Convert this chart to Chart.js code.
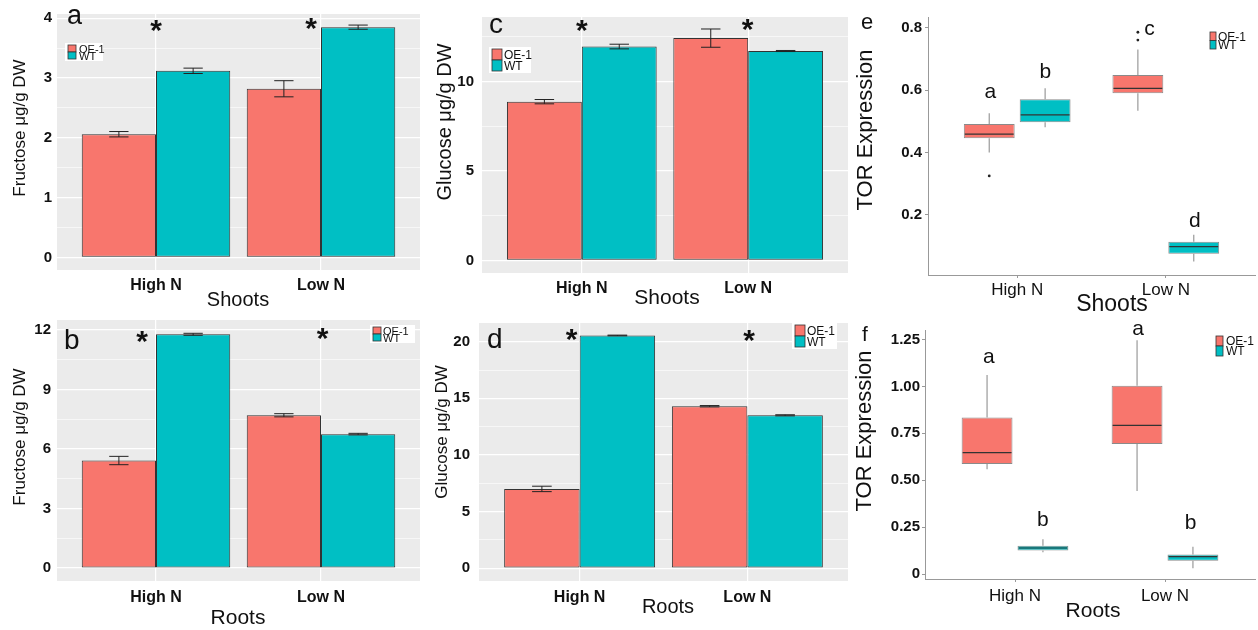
<!DOCTYPE html>
<html>
<head>
<meta charset="utf-8">
<script src="https://cdn.jsdelivr.net/npm/chart.js@4.4.1/dist/chart.umd.min.js"></script>
<style>
  body { margin: 0; background: #fff; width: 1258px; height: 630px; position: relative; overflow: hidden; }
  canvas { position: absolute; }
</style>
</head>
<body>
<canvas id="a" width="425" height="312" style="left:0;top:0"></canvas>
<canvas id="b" width="425" height="325" style="left:0;top:305px"></canvas>
<canvas id="c" width="423" height="312" style="left:425px;top:0"></canvas>
<canvas id="d" width="423" height="325" style="left:425px;top:305px"></canvas>
<canvas id="e" width="418" height="317" style="left:840px;top:0"></canvas>
<canvas id="f" width="418" height="315" style="left:840px;top:315px"></canvas>
<script>
const groups = ["High N", "Low N"];
const genotypes = ["OE-1", "WT"];
const fill = ["#F8766D", "#00BFC4"];

// a: fructose, shoots (mean, se)
const fruShootOE = [2.06, 2.82];
const fruShootOEse = [0.045, 0.135];
const fruShootWT = [3.12, 3.85];
const fruShootWTse = [0.045, 0.035];
// b: fructose, roots
const fruRootOE = [5.42, 7.70];
const fruRootOEse = [0.21, 0.08];
const fruRootWT = [11.78, 6.75];
const fruRootWTse = [0.05, 0.04];
// c: glucose, shoots
const gluShootOE = [8.87, 12.42];
const gluShootOEse = [0.12, 0.51];
const gluShootWT = [11.95, 11.7];
const gluShootWTse = [0.13, 0.03];
// d: glucose, roots
const gluRootOE = [7.0, 14.3];
const gluRootOEse = [0.24, 0.06];
const gluRootWT = [20.55, 13.5];
const gluRootWTse = [0.03, 0.05];

// e, f: TOR expression boxes [lower whisker, Q1, median, Q3, upper whisker]
const torShootOE = [[0.40, 0.446, 0.459, 0.492, 0.526], [0.534, 0.590, 0.606, 0.649, 0.731]];
const torShootWT = [[0.481, 0.497, 0.521, 0.571, 0.606], [0.05, 0.075, 0.098, 0.114, 0.136]];
const torShootOEout = [[0.325], [0.761, 0.786]];
const torShootWTout = [[], []];
const torRootOE = [[0.559, 0.587, 0.647, 0.835, 1.06], [0.443, 0.693, 0.792, 1.003, 1.246]];
const torRootWT = [[0.117, 0.126, 0.14, 0.152, 0.186], [0.032, 0.072, 0.094, 0.106, 0.147]];
const torRootOEout = [[], []];
const torRootWTout = [[], []];

// significance marks: [x, y] in axis units
const starsA = [[1.0, 3.80], [1.94, 3.84]];
const starsB = [[0.915, 11.45], [2.01, 11.6]];
const starsC = [[1.0, 12.9], [1.997, 12.93]];
const starsD = [[0.952, 20.26], [2.01, 20.13]];
const lettersE = [["a", 0.82, 0.575], ["b", 1.19, 0.639], ["c", 1.89, 0.777], ["d", 2.195, 0.161]];
const lettersF = [["a", 0.825, 1.124], ["b", 1.185, 0.257], ["a", 1.82, 1.273], ["b", 2.17, 0.242]];

// tick values
const majorA = [0, 1, 2, 3, 4], minorA = [0.5, 1.5, 2.5, 3.5];
const majorB = [0, 3, 6, 9, 12], minorB = [1.5, 4.5, 7.5, 10.5];
const majorC = [0, 5, 10], minorC = [2.5, 7.5, 12.5];
const majorD = [0, 5, 10, 15, 20], minorD = [2.5, 7.5, 12.5, 17.5];
const ticksE = [0.2, 0.4, 0.6, 0.8];
const ticksF = [0, 0.25, 0.5, 0.75, 1.0, 1.25];

const FONT = '"Liberation Sans", Arial, Helvetica, sans-serif';

function text(ctx, s, x, y, font, align, base, rot) {
    ctx.save();
    ctx.font = font;
    ctx.fillStyle = "#111";
    ctx.textAlign = align || "center";
    ctx.textBaseline = base || "middle";
    ctx.translate(x, y);
    if (rot) ctx.rotate(rot);
    ctx.fillText(s, 0, 0);
    ctx.restore();
}

const decor = {
    id: "decor",
    beforeDraw(chart, args, o) {
        if (!o.gray) return;
        const a = chart.chartArea, ctx = chart.ctx;
        ctx.save();
        ctx.fillStyle = "#EBEBEB";
        ctx.fillRect(a.left, a.top, a.right - a.left, a.bottom - a.top);
        ctx.restore();
    },
    afterDatasetsDraw(chart, args, o) {
        const ctx = chart.ctx, ys = chart.scales.y;
        ctx.save();
        if (o.errors) {
            ctx.strokeStyle = "#222";
            ctx.lineWidth = 1;
            o.errors.forEach((err, d) => {
                const ds = chart.data.datasets[d];
                chart.getDatasetMeta(d).data.forEach((bar, i) => {
                    const v = ds.data[i].y;
                    const t = ys.getPixelForValue(v + err[i]);
                    const b = ys.getPixelForValue(v - err[i]);
                    const h = bar.width * 0.13;
                    ctx.beginPath();
                    ctx.moveTo(bar.x, t); ctx.lineTo(bar.x, b);
                    ctx.moveTo(bar.x - h, t); ctx.lineTo(bar.x + h, t);
                    ctx.moveTo(bar.x - h, b); ctx.lineTo(bar.x + h, b);
                    ctx.stroke();
                });
            });
        }
        if (o.boxes) {
            o.boxes.forEach((stats, d) => {
                chart.getDatasetMeta(d).data.forEach((bar, i) => {
                    const s = stats[i].map(v => ys.getPixelForValue(v));
                    ctx.strokeStyle = "#9a9a9a";
                    ctx.lineWidth = 1.2;
                    ctx.beginPath();
                    ctx.moveTo(bar.x, s[0]); ctx.lineTo(bar.x, s[1]);
                    ctx.moveTo(bar.x, s[3]); ctx.lineTo(bar.x, s[4]);
                    ctx.stroke();
                    ctx.strokeStyle = "#333";
                    ctx.beginPath();
                    ctx.moveTo(bar.x - bar.width / 2 + 1, s[2]);
                    ctx.lineTo(bar.x + bar.width / 2 - 1, s[2]);
                    ctx.stroke();
                    ctx.fillStyle = "#222";
                    o.outliers[d][i].forEach(v => {
                        ctx.beginPath();
                        ctx.arc(bar.x, ys.getPixelForValue(v), 1.4, 0, Math.PI * 2);
                        ctx.fill();
                    });
                });
            });
        }
        ctx.restore();
    },
    afterDraw(chart, args, o) {
        const ctx = chart.ctx, xs = chart.scales.x, ys = chart.scales.y;
        (o.stars || []).forEach(([x, y]) => {
            text(ctx, "*", xs.getPixelForValue(x), ys.getPixelForValue(y) + 10, "bold 30px " + FONT, "center", "alphabetic");
        });
        (o.letters || []).forEach(([s, x, y]) => {
            text(ctx, s, xs.getPixelForValue(x), ys.getPixelForValue(y), "21px " + FONT, "center", "alphabetic");
        });
        const L = o.legend;
        if (L) {
            ctx.save();
            if (L.bg) {
                ctx.fillStyle = "#fff";
                ctx.fillRect(L.x - 3, L.y - 2, L.w, L.rh * 2 + 4);
            }
            chart.data.datasets.forEach((ds, k) => {
                ctx.fillStyle = fill[k];
                ctx.fillRect(L.x, L.y + k * L.rh, L.bw, L.rh);
                ctx.strokeStyle = "#333";
                ctx.lineWidth = 0.8;
                ctx.strokeRect(L.x, L.y + k * L.rh, L.bw, L.rh);
                text(ctx, ds.label, L.tx, L.y + k * L.rh + L.rh / 2 + 1, L.size + "px " + FONT, "left", "middle");
            });
            ctx.restore();
        }
        const P = o.tag;
        text(ctx, P.s, P.x, P.y, P.size + "px " + FONT, "left", "alphabetic");
        const Y = o.ytitle, X = o.xtitle;
        text(ctx, Y.s, Y.x, Y.y, Y.size + "px " + FONT, "center", "middle", -Math.PI / 2);
        text(ctx, X.s, X.x, X.y, X.size + "px " + FONT, "center", "middle");
    }
};

function xScale(h, gray, pad, size, weight) {
    return {
        type: "linear", min: 0.4, max: 2.6, offset: false,
        afterBuildTicks: s => { s.ticks = [{ value: 1 }, { value: 2 }]; },
        afterFit: s => { s.height = h; },
        ticks: {
            autoSkip: false, padding: pad, color: "#111",
            font: { family: FONT, size: size, weight: weight },
            callback: v => groups[v - 1]
        },
        grid: gray
            ? { offset: false, color: "#fff", lineWidth: 1.2, drawTicks: false }
            : { offset: false, drawOnChartArea: false, drawTicks: true, tickLength: 3, color: "#999" },
        border: gray ? { display: false } : { display: true, color: "#999", width: 1 }
    };
}

function barChart(id, cfg) {
    const values = cfg.values, allTicks = cfg.major.concat(cfg.minor).sort((p, q) => p - q);
    return new Chart(document.getElementById(id), {
        type: "bar",
        data: {
            datasets: genotypes.map((g, k) => ({
                label: g,
                data: groups.map((_, i) => ({ x: i + 1, y: values[k][i] })),
                backgroundColor: fill[k],
                borderColor: "#333",
                borderWidth: 1,
                borderSkipped: false,
                barPercentage: 1,
                categoryPercentage: 0.9
            }))
        },
        options: {
            responsive: false,
            animation: false,
            events: [],
            layout: { padding: cfg.pad },
            plugins: {
                legend: { display: false },
                tooltip: { enabled: false },
                decor: {
                    gray: true, errors: cfg.errors, stars: cfg.stars, legend: cfg.legend,
                    tag: cfg.tag, ytitle: cfg.ytitle, xtitle: cfg.xtitle
                }
            },
            scales: {
                x: xScale(cfg.xh, true, cfg.xpad, 16, "bold"),
                y: {
                    min: cfg.range[0], max: cfg.range[1],
                    afterBuildTicks: s => { s.ticks = allTicks.map(v => ({ value: v })); },
                    afterFit: s => { s.width = cfg.yw; },
                    ticks: {
                        autoSkip: false, padding: cfg.ypad, color: "#111",
                        font: { family: FONT, size: 15, weight: "bold" },
                        callback: v => cfg.major.includes(v) ? String(v) : ""
                    },
                    grid: {
                        color: "#fff", drawTicks: false,
                        lineWidth: c => cfg.minor.includes(c.tick && c.tick.value) ? 0.6 : 1.2
                    },
                    border: { display: false }
                }
            }
        },
        plugins: [decor]
    });
}

function boxChart(id, cfg) {
    return new Chart(document.getElementById(id), {
        type: "bar",
        data: {
            datasets: genotypes.map((g, k) => ({
                label: g,
                data: groups.map((_, i) => ({ x: i + 1, y: [cfg.stats[k][i][1], cfg.stats[k][i][3]] })),
                backgroundColor: fill[k],
                borderColor: "#8a8a8a",
                borderWidth: 1,
                borderSkipped: false,
                barPercentage: 0.91,
                categoryPercentage: cfg.cat
            }))
        },
        options: {
            responsive: false,
            animation: false,
            events: [],
            layout: { padding: cfg.pad },
            plugins: {
                legend: { display: false },
                tooltip: { enabled: false },
                decor: {
                    boxes: cfg.stats, outliers: cfg.outliers, letters: cfg.letters, legend: cfg.legend,
                    tag: cfg.tag, ytitle: cfg.ytitle, xtitle: cfg.xtitle
                }
            },
            scales: {
                x: xScale(cfg.xh, false, cfg.xpad, 17, "normal"),
                y: {
                    min: cfg.range[0], max: cfg.range[1],
                    afterBuildTicks: s => { s.ticks = cfg.ticks.map(v => ({ value: v })); },
                    afterFit: s => { s.width = cfg.yw; },
                    ticks: {
                        autoSkip: false, padding: cfg.ypad, color: "#111",
                        font: { family: FONT, size: 15, weight: "bold" },
                        callback: cfg.fmt
                    },
                    grid: { drawOnChartArea: false, drawTicks: true, tickLength: 3, color: "#999" },
                    border: { display: true, color: "#999", width: 1 }
                }
            }
        },
        plugins: [decor]
    });
}

barChart("a", {
    values: [fruShootOE, fruShootWT], errors: [fruShootOEse, fruShootWTse], stars: starsA,
    major: majorA, minor: minorA, range: [-0.21, 4.07],
    pad: { top: 10, right: 5, left: 0, bottom: 0 }, yw: 57, xh: 42, xpad: 6, ypad: 5,
    legend: { x: 68, y: 45, bw: 8, rh: 7, tx: 79, size: 11, bg: true, w: 38 },
    tag: { s: "a", x: 67, y: 24, size: 27 },
    ytitle: { s: "Fructose μg/g DW", x: 20, y: 128, size: 17 },
    xtitle: { s: "Shoots", x: 238, y: 300, size: 20 }
});
barChart("b", {
    values: [fruRootOE, fruRootWT], errors: [fruRootOEse, fruRootWTse], stars: starsB,
    major: majorB, minor: minorB, range: [-0.65, 12.5],
    pad: { top: 13, right: 5, left: 0, bottom: 0 }, yw: 57, xh: 49, xpad: 7, ypad: 6,
    legend: { x: 373, y: 22, bw: 8, rh: 7, tx: 383, size: 11, bg: true, w: 45 },
    tag: { s: "b", x: 64, y: 44, size: 28 },
    ytitle: { s: "Fructose μg/g DW", x: 20, y: 132, size: 17 },
    xtitle: { s: "Roots", x: 238, y: 313, size: 21 }
});
barChart("c", {
    values: [gluShootOE, gluShootWT], errors: [gluShootOEse, gluShootWTse], stars: starsC,
    major: majorC, minor: minorC, range: [-0.7, 13.6],
    pad: { top: 10, right: 0, left: 0, bottom: 0 }, yw: 57, xh: 39, xpad: 6, ypad: 8,
    legend: { x: 67, y: 49, bw: 10, rh: 11, tx: 79, size: 12, bg: true, w: 42 },
    tag: { s: "c", x: 64, y: 33, size: 28 },
    ytitle: { s: "Glucose μg/g DW", x: 20, y: 122, size: 20 },
    xtitle: { s: "Shoots", x: 242, y: 298, size: 21 }
});
barChart("d", {
    values: [gluRootOE, gluRootWT], errors: [gluRootOEse, gluRootWTse], stars: starsD,
    major: majorD, minor: minorD, range: [-1.13, 21.65],
    pad: { top: 13, right: 0, left: 0, bottom: 0 }, yw: 54, xh: 49, xpad: 7, ypad: 9,
    legend: { x: 370, y: 20, bw: 10, rh: 11, tx: 382, size: 12, bg: true, w: 45 },
    tag: { s: "d", x: 62, y: 43, size: 28 },
    ytitle: { s: "Glucose μg/g DW", x: 17, y: 127, size: 17 },
    xtitle: { s: "Roots", x: 243, y: 302, size: 20 }
});
boxChart("e", {
    stats: [torShootOE, torShootWT], outliers: [torShootOEout, torShootWTout], letters: lettersE,
    ticks: ticksE, fmt: v => v.toFixed(1), range: [0.007, 0.835], cat: 0.752,
    pad: { top: 17, right: 3, left: 0, bottom: 0 }, yw: 88, xh: 42, xpad: 2, ypad: 3,
    legend: { x: 370, y: 32, bw: 6, rh: 8.5, tx: 378, size: 12, bg: false },
    tag: { s: "e", x: 21, y: 29, size: 22 },
    ytitle: { s: "TOR Expression", x: 26, y: 130, size: 22 },
    xtitle: { s: "Shoots", x: 272, y: 305, size: 23 }
});
boxChart("f", {
    stats: [torRootOE, torRootWT], outliers: [torRootOEout, torRootWTout], letters: lettersF,
    ticks: ticksF, fmt: v => v === 0 ? "0" : v.toFixed(2), range: [-0.025, 1.30], cat: 0.745,
    pad: { top: 15, right: 3, left: 0, bottom: 0 }, yw: 85, xh: 51, xpad: 4, ypad: 2,
    legend: { x: 376, y: 21, bw: 7, rh: 10, tx: 386, size: 12, bg: false },
    tag: { s: "f", x: 22, y: 26, size: 21 },
    ytitle: { s: "TOR Expression", x: 25, y: 116, size: 22 },
    xtitle: { s: "Roots", x: 253, y: 296, size: 21 }
});
</script>
</body>
</html>
